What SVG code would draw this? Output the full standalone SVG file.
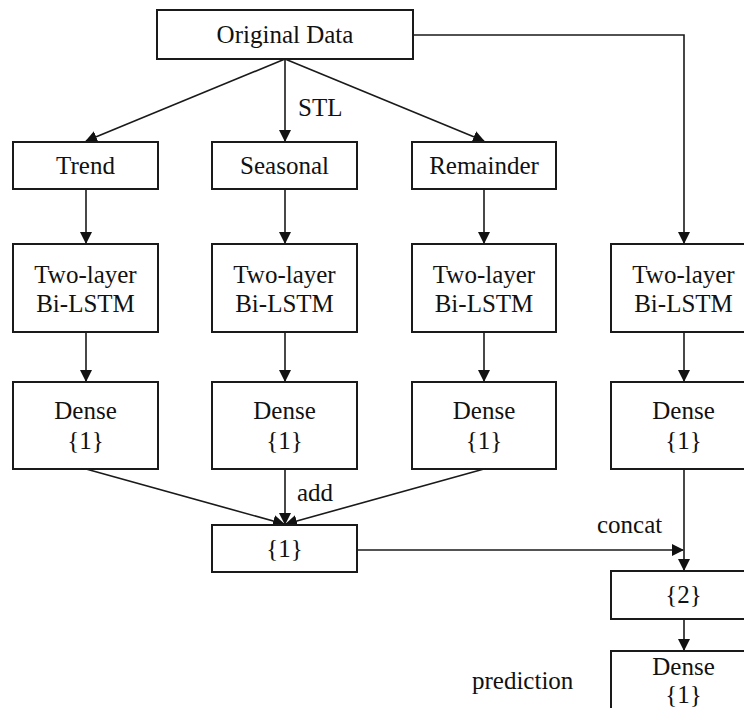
<svg xmlns="http://www.w3.org/2000/svg" width="744" height="708" viewBox="0 0 744 708">
<style>
.box{fill:#fff;stroke:#1a1a1a;stroke-width:2}
text{font-family:'Liberation Serif','Times New Roman','DejaVu Serif',serif;font-size:25px;fill:#111}
.t{text-anchor:middle}
.c{fill:none;stroke:#1a1a1a;stroke-width:1.6;marker-end:url(#ah)}
</style>
<defs>
<marker id="ah" markerWidth="12" markerHeight="12" refX="11" refY="6" orient="auto" markerUnits="userSpaceOnUse">
<path d="M0,0 L12,6 L0,12 Z" fill="#111"/>
</marker>
</defs>
<rect width="744" height="708" fill="#fff"/>
<g id="connectors">
<line class="c" x1="285" y1="59" x2="86" y2="141"/>
<line class="c" x1="285" y1="59" x2="285" y2="141"/>
<line class="c" x1="285" y1="59" x2="484" y2="141"/>
<polyline class="c" points="413,35 684,35 684,243"/>
<line class="c" x1="86" y1="189" x2="86" y2="243"/>
<line class="c" x1="285" y1="189" x2="285" y2="243"/>
<line class="c" x1="484" y1="189" x2="484" y2="243"/>
<line class="c" x1="86" y1="332" x2="86" y2="381"/>
<line class="c" x1="285" y1="332" x2="285" y2="381"/>
<line class="c" x1="484" y1="332" x2="484" y2="381"/>
<line class="c" x1="684" y1="332" x2="684" y2="381"/>
<line class="c" x1="86" y1="469" x2="284" y2="524"/>
<line class="c" x1="285" y1="469" x2="285" y2="524"/>
<line class="c" x1="484" y1="469" x2="286" y2="524"/>
<line class="c" x1="357" y1="550" x2="683" y2="550"/>
<line class="c" x1="684" y1="469" x2="684" y2="570"/>
<line class="c" x1="684" y1="619" x2="684" y2="650"/>
<text x="298" y="116">STL</text>
<text x="297" y="501">add</text>
<text x="597" y="533">concat</text>
<text x="472" y="689">prediction</text>
</g>
<g id="original"><rect class="box" x="157" y="10" width="256" height="49"/><text class="t" x="285" y="43">Original Data</text></g>
<g id="trend"><rect class="box" x="13" y="142" width="145" height="47"/><text class="t" x="85.5" y="174">Trend</text></g>
<g id="seasonal"><rect class="box" x="212" y="142" width="145" height="47"/><text class="t" x="284.5" y="174">Seasonal</text></g>
<g id="remainder"><rect class="box" x="412" y="142" width="144" height="47"/><text class="t" x="484" y="174">Remainder</text></g>
<g id="lstm1"><rect class="box" x="13" y="244" width="145" height="88"/><text class="t" x="85.5" y="283">Two-layer</text><text class="t" x="85.5" y="312">Bi-LSTM</text></g>
<g id="lstm2"><rect class="box" x="212" y="244" width="145" height="88"/><text class="t" x="284.5" y="283">Two-layer</text><text class="t" x="284.5" y="312">Bi-LSTM</text></g>
<g id="lstm3"><rect class="box" x="412" y="244" width="144" height="88"/><text class="t" x="484" y="283">Two-layer</text><text class="t" x="484" y="312">Bi-LSTM</text></g>
<g id="lstm4"><rect class="box" x="611" y="244" width="145" height="88"/><text class="t" x="683.5" y="283">Two-layer</text><text class="t" x="683.5" y="312">Bi-LSTM</text></g>
<g id="dense1"><rect class="box" x="13" y="382" width="145" height="87"/><text class="t" x="85.5" y="419">Dense</text><text class="t" x="85.5" y="449">{1}</text></g>
<g id="dense2"><rect class="box" x="212" y="382" width="145" height="87"/><text class="t" x="284.5" y="419">Dense</text><text class="t" x="284.5" y="449">{1}</text></g>
<g id="dense3"><rect class="box" x="412" y="382" width="144" height="87"/><text class="t" x="484" y="419">Dense</text><text class="t" x="484" y="449">{1}</text></g>
<g id="dense4"><rect class="box" x="611" y="382" width="145" height="87"/><text class="t" x="683.5" y="419">Dense</text><text class="t" x="683.5" y="449">{1}</text></g>
<g id="sum"><rect class="box" x="212" y="525" width="145" height="47"/><text class="t" x="284.5" y="557">{1}</text></g>
<g id="concat2"><rect class="box" x="611" y="571" width="145" height="48"/><text class="t" x="683.5" y="603">{2}</text></g>
<g id="denseOut"><rect class="box" x="611" y="651" width="145" height="80"/><text class="t" x="683.5" y="675">Dense</text><text class="t" x="683.5" y="703">{1}</text></g>
</svg>
